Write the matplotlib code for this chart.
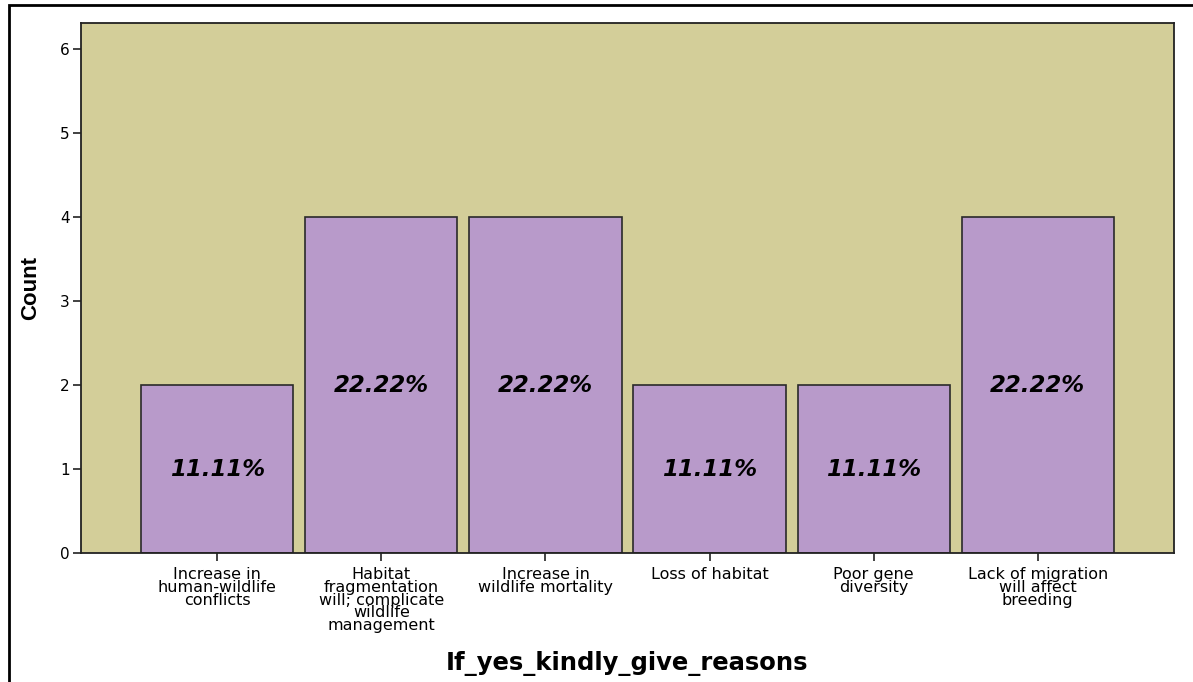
import matplotlib.pyplot as plt
from matplotlib.patches import Rectangle
from matplotlib import font_manager

categories = [
    "Increase in\nhuman-wildlife\nconflicts",
    "Habitat\nfragmentation\nwill; complicate\nwildlife\nmanagement",
    "Increase in\nwildlife mortality",
    "Loss of habitat",
    "Poor gene\ndiversity",
    "Lack of migration\nwill affect\nbreeding",
]
counts = [2, 4, 4, 2, 2, 4]
pct_labels = ["11.11%", "22.22%", "22.22%", "11.11%", "11.11%", "22.22%"]

names = {f.name for f in font_manager.fontManager.ttflist}
narrow = "Liberation Sans Narrow" if "Liberation Sans Narrow" in names else "Liberation Sans"
plt.rcParams["font.family"] = ["DejaVu Sans"]

fig = plt.figure(figsize=(11.93, 6.82), dpi=100)
ax = fig.add_axes([81 / 1193, 1 - 553 / 682, (1174 - 81) / 1193, (553 - 23) / 682])

x = range(len(categories))
ax.bar(x, counts, width=0.927, color="#B89ACA", edgecolor="#2a2a2a", linewidth=1.2, zorder=2)
ax.set_facecolor("#D3CE99")
ax.set_xlim(-0.83, 5.83)
ax.set_ylim(0, 6.31)
ax.set_yticks(range(7))
ax.set_xticks(list(x))
ax.set_xticklabels(categories, fontsize=11.5, linespacing=0.82)
ax.tick_params(axis="both", direction="out", length=6, width=1.2, color="#222222")
ax.tick_params(axis="y", labelsize=11, pad=2)
ax.tick_params(axis="x", pad=4)
for s in ax.spines.values():
    s.set_linewidth(1.3)
    s.set_color("#222222")

for xi, c, lab in zip(x, counts, pct_labels):
    ax.text(xi, c / 2, lab, ha="center", va="center", fontsize=16.5,
            fontweight="bold", fontstyle="italic", zorder=3)

ax.set_ylabel("Count", fontsize=16, fontweight="bold", family=narrow, labelpad=14)
fig.text((81 + 1174) / 2 / 1193, 1 - 664 / 682, "If_yes_kindly_give_reasons",
         ha="center", va="center", fontsize=17.5, fontweight="bold")

fig.patches.append(Rectangle((9 / 1193, -0.1), 1.2, 1 - 5 / 682 + 0.1,
                             transform=fig.transFigure, fill=False,
                             edgecolor="black", linewidth=2))

fig.savefig("out.png", dpi=100)
